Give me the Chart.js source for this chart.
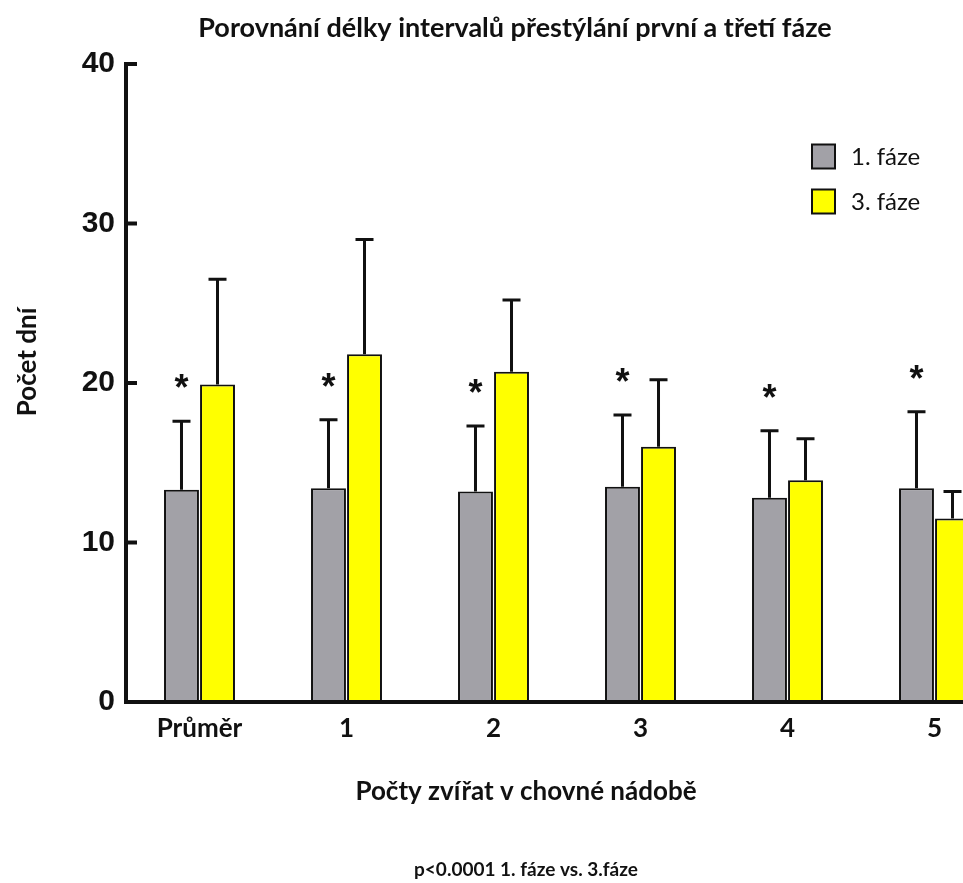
<!DOCTYPE html>
<html>
<head>
<meta charset="utf-8">
<script src="https://cdn.jsdelivr.net/npm/chart.js@4/dist/chart.umd.min.js"></script>
<style>
  html, body { margin: 0; padding: 0; background: #fff; }
  #wrap { width: 963px; height: 883px; overflow: hidden; position: relative; }
  #chart { display: block; }
</style>
</head>
<body>
<div id="wrap">
  <canvas id="chart" width="1030" height="883"></canvas>
</div>
<script>
'use strict';

const categories = ['Průměr', '1', '2', '3', '4', '5'];

// průměry a horní směrodatné odchylky (dny)
const phase1 = [13.3, 13.4, 13.2, 13.5, 12.8, 13.4];
const phase1Sd = [4.3, 4.3, 4.1, 4.5, 4.2, 4.8];
const phase3 = [19.9, 21.8, 20.7, 16.0, 13.9, 11.5];
const phase3Sd = [6.6, 7.2, 4.5, 4.2, 2.6, 1.7];

// hvězdička nad 1. fází = významný rozdíl
const significant = [true, true, true, true, true, true];

const yTicks = [0, 10, 20, 30, 40];

const GRAY = '#a2a1a7';
const YELLOW = '#ffff00';
const INK = '#111';

const CAPTION_FONT = 'Lato, "Open Sans", sans-serif';

// chybové úsečky, hvězdičky, vnitřní značky osy y, legenda a popisky
const extrasPlugin = {
  id: 'extras',
  afterDatasetsDraw(chart) {
    const { ctx, scales } = chart;
    const y = scales.y;
    const area = chart.chartArea;

    ctx.save();
    ctx.strokeStyle = INK;
    ctx.lineWidth = 3;
    ctx.lineCap = 'butt';

    // error bars (jen horní část)
    chart.data.datasets.forEach((ds, di) => {
      const meta = chart.getDatasetMeta(di);
      meta.data.forEach((bar, i) => {
        const top = y.getPixelForValue(ds.data[i] + ds.sd[i]);
        ctx.beginPath();
        ctx.moveTo(bar.x, bar.y);
        ctx.lineTo(bar.x, top);
        ctx.moveTo(bar.x - 9, top);
        ctx.lineTo(bar.x + 9, top);
        ctx.stroke();
      });
    });

    // asterisks above phase 1
    ctx.fillStyle = INK;
    ctx.font = 'bold 36px "Liberation Sans", Arial, sans-serif';
    ctx.textAlign = 'center';
    ctx.textBaseline = 'alphabetic';
    const m = ctx.measureText('*');
    const mid = (m.actualBoundingBoxAscent - m.actualBoundingBoxDescent) / 2;
    const meta0 = chart.getDatasetMeta(0);
    significant.forEach((s, i) => {
      if (!s) return;
      const bar = meta0.data[i];
      const top = y.getPixelForValue(phase1[i] + phase1Sd[i]);
      ctx.fillText('*', bar.x, top - 40 + mid);
    });

    // tick marks pointing into the plot
    ctx.lineWidth = 4;
    yTicks.forEach(v => {
      const py = y.getPixelForValue(v);
      ctx.beginPath();
      ctx.moveTo(area.left, py);
      ctx.lineTo(area.left + 11, py);
      ctx.stroke();
    });

    // legenda
    ctx.font = '24px ' + CAPTION_FONT;
    ctx.textAlign = 'left';
    ctx.textBaseline = 'middle';
    chart.data.datasets.forEach((ds, i) => {
      const cy = 156.5 + i * 45;
      ctx.fillStyle = ds.backgroundColor;
      ctx.fillRect(812, cy - 12, 23, 24);
      ctx.lineWidth = 2;
      ctx.strokeStyle = INK;
      ctx.strokeRect(812, cy - 12, 23, 24);
      ctx.fillStyle = INK;
      ctx.fillText(ds.label, 851, cy + 1);
    });

    // y axis title
    ctx.font = 'bold 26px ' + CAPTION_FONT;
    ctx.textAlign = 'center';
    ctx.save();
    ctx.translate(28, 362);
    ctx.rotate(-Math.PI / 2);
    ctx.fillText('Počet dní', 0, 0);
    ctx.restore();

    // x axis title
    ctx.font = 'bold 26px ' + CAPTION_FONT;
    ctx.fillText('Počty zvířat v chovné nádobě', 526, 792);

    // poznámka pod grafem
    ctx.font = 'bold 19px ' + CAPTION_FONT;
    ctx.fillText('p<0.0001 1. fáze vs. 3.fáze', 526, 870);

    ctx.restore();
  }
};

new Chart(document.getElementById('chart'), {
  type: 'bar',
  data: {
    labels: categories,
    datasets: [
      {
        label: '1. fáze',
        data: phase1,
        sd: phase1Sd,
        backgroundColor: GRAY,
        borderColor: INK,
        borderWidth: 2,
        borderSkipped: false,
        categoryPercentage: 0.49,
        barPercentage: 0.97,
      },
      {
        label: '3. fáze',
        data: phase3,
        sd: phase3Sd,
        backgroundColor: YELLOW,
        borderColor: INK,
        borderWidth: 2,
        borderSkipped: false,
        categoryPercentage: 0.49,
        barPercentage: 0.97,
      },
    ],
  },
  options: {
    responsive: false,
    animation: false,
    devicePixelRatio: 1,
    layout: { padding: { left: 22, right: 22, top: 0, bottom: 0 } },
    plugins: {
      legend: { display: false },
      tooltip: { enabled: false },
      title: {
        display: true,
        text: 'Porovnání délky intervalů přestýlání první a třetí fáze',
        color: INK,
        font: { family: CAPTION_FONT, size: 27, weight: 'bold', lineHeight: 1.2 },
        padding: { top: 11.8, bottom: 19.8 },
      },
    },
    scales: {
      x: {
        grid: { display: false, drawTicks: false },
        border: { display: true, color: INK, width: 4, z: 1 },
        ticks: {
          color: INK,
          padding: 11,
          font: { family: CAPTION_FONT, size: 26, weight: 'bold' },
        },
        afterFit: (scale) => { scale.height = 181; },
      },
      y: {
        min: 0,
        max: 40,
        grid: { display: false, drawTicks: false },
        border: { display: true, color: INK, width: 4, z: 1 },
        ticks: {
          stepSize: 10,
          color: INK,
          padding: 11,
          font: { family: '"Liberation Sans", Arial, sans-serif', size: 30, weight: 'bold' },
        },
        afterFit: (scale) => { scale.width = 104; },
      },
    },
  },
  plugins: [extrasPlugin],
});
</script>
</body>
</html>
